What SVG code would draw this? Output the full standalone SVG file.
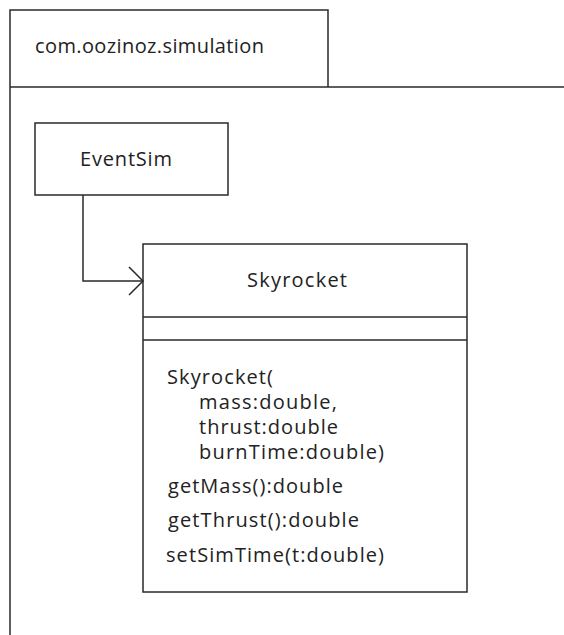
<svg xmlns="http://www.w3.org/2000/svg" width="564" height="635" viewBox="0 0 564 635">
<style>
.s{fill:none;stroke:#2a2a2a;stroke-width:1.5}
.box{fill:#fff;stroke:#2a2a2a;stroke-width:1.5}
text{font-family:"Open Sans","Liberation Sans",sans-serif;font-size:20px;fill:#222}
</style>
<rect width="564" height="635" fill="#fff"/>
<g id="package">
<path class="s" d="M10,635 V10 H328 V87"/>
<path class="s" d="M10,87 H564"/>
<text x="35" y="53" textLength="229">com.oozinoz.simulation</text>
</g>
<g id="EventSim">
<rect class="box" x="35" y="123" width="193" height="72"/>
<text x="80" y="166" textLength="92">EventSim</text>
</g>
<g id="Skyrocket">
<rect class="box" x="143" y="244" width="324" height="348"/>
<path class="s" d="M143,317 H467 M143,340 H467"/>
<text x="247" y="287" textLength="100">Skyrocket</text>
<text x="167" y="384" textLength="106">Skyrocket(</text>
<text x="199" y="409" textLength="138">mass:double,</text>
<text x="199" y="434" textLength="139">thrust:double</text>
<text x="199" y="459" textLength="185">burnTime:double)</text>
<text x="168" y="493" textLength="175">getMass():double</text>
<text x="168" y="527" textLength="191">getThrust():double</text>
<text x="166" y="562" textLength="218">setSimTime(t:double)</text>
</g>
<g id="connectors">
<path class="s" d="M83,195 V281 H143"/>
<path class="s" d="M129,267 L143,281 L129,295"/>
</g>
</svg>
